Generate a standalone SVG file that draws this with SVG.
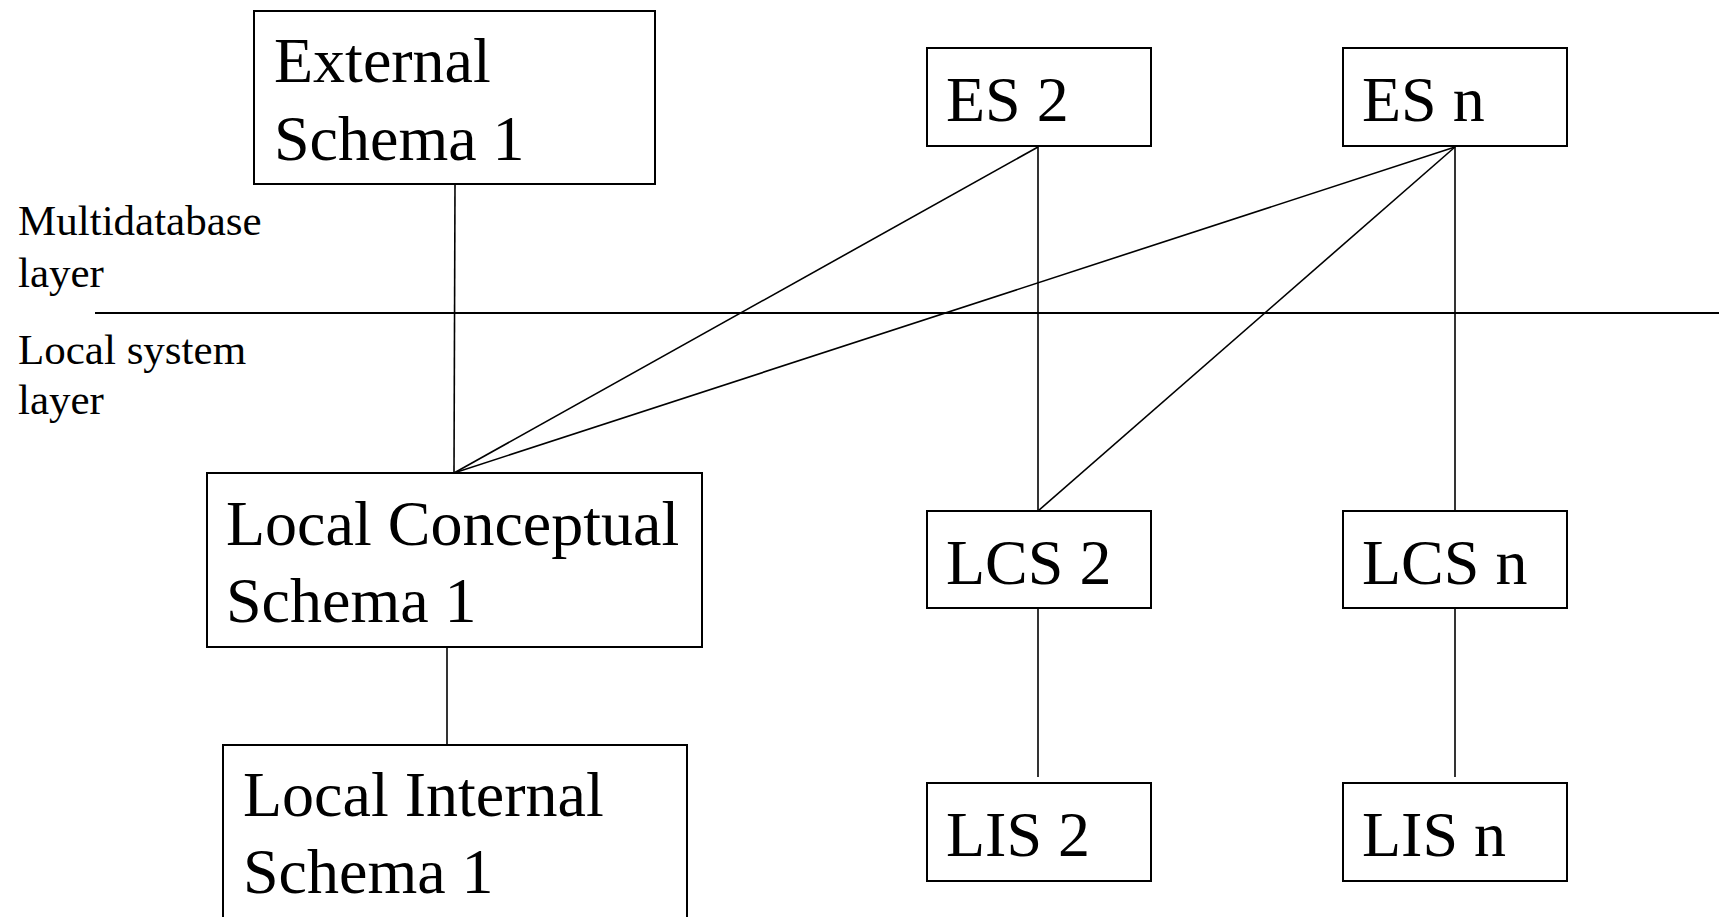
<svg xmlns="http://www.w3.org/2000/svg" width="1719" height="917" viewBox="0 0 1719 917">
  <style>
    .box { fill: #ffffff; stroke: #000000; stroke-width: 2; }
    .lbl { font-family: "Liberation Serif", "Times New Roman", serif; font-size: 64px; fill: #000000; }
    .layer { font-family: "Liberation Serif", "Times New Roman", serif; font-size: 43px; fill: #000000; }
    .conn line { stroke: #000000; stroke-width: 1.6; }
  </style>
  <rect width="1719" height="917" fill="#ffffff"/>

  <!-- layer divider and labels -->
  <g id="layers">
    <line x1="95" y1="313" x2="1719" y2="313" stroke="#000000" stroke-width="1.8"/>
    <text class="layer" x="18" y="235">Multidatabase</text>
    <text class="layer" x="18" y="287">layer</text>
    <text class="layer" x="18" y="364">Local system</text>
    <text class="layer" x="18" y="414">layer</text>
  </g>

  <!-- connectors -->
  <g id="connectors" class="conn">
    <line x1="455" y1="184" x2="454" y2="473"/>
    <line x1="1038" y1="147" x2="454" y2="473"/>
    <line x1="1455" y1="147" x2="454" y2="473"/>
    <line x1="1038" y1="147" x2="1038" y2="511"/>
    <line x1="1455" y1="147" x2="1038" y2="511"/>
    <line x1="1455" y1="147" x2="1455" y2="511"/>
    <line x1="447" y1="647" x2="447" y2="745"/>
    <line x1="1038" y1="600" x2="1038" y2="777"/>
    <line x1="1455" y1="600" x2="1455" y2="777"/>
  </g>

  <g id="es1">
    <rect class="box" x="254" y="11" width="401" height="173"/>
    <text class="lbl" x="274" y="82">External</text>
    <text class="lbl" x="274" y="160">Schema 1</text>
  </g>
  <g id="es2">
    <rect class="box" x="927" y="48" width="224" height="98"/>
    <text class="lbl" x="946" y="121">ES 2</text>
  </g>
  <g id="esn">
    <rect class="box" x="1343" y="48" width="224" height="98"/>
    <text class="lbl" x="1362" y="121">ES n</text>
  </g>

  <g id="lcs1">
    <rect class="box" x="207" y="473" width="495" height="174"/>
    <text class="lbl" x="226" y="545">Local Conceptual</text>
    <text class="lbl" x="226" y="622">Schema 1</text>
  </g>
  <g id="lcs2">
    <rect class="box" x="927" y="511" width="224" height="97"/>
    <text class="lbl" x="946" y="584">LCS 2</text>
  </g>
  <g id="lcsn">
    <rect class="box" x="1343" y="511" width="224" height="97"/>
    <text class="lbl" x="1362" y="584">LCS n</text>
  </g>

  <g id="lis1">
    <rect class="box" x="223" y="745" width="464" height="190"/>
    <text class="lbl" x="243" y="816">Local Internal</text>
    <text class="lbl" x="243" y="893">Schema 1</text>
  </g>
  <g id="lis2">
    <rect class="box" x="927" y="783" width="224" height="98"/>
    <text class="lbl" x="946" y="856">LIS 2</text>
  </g>
  <g id="lisn">
    <rect class="box" x="1343" y="783" width="224" height="98"/>
    <text class="lbl" x="1362" y="856">LIS n</text>
  </g>
</svg>
